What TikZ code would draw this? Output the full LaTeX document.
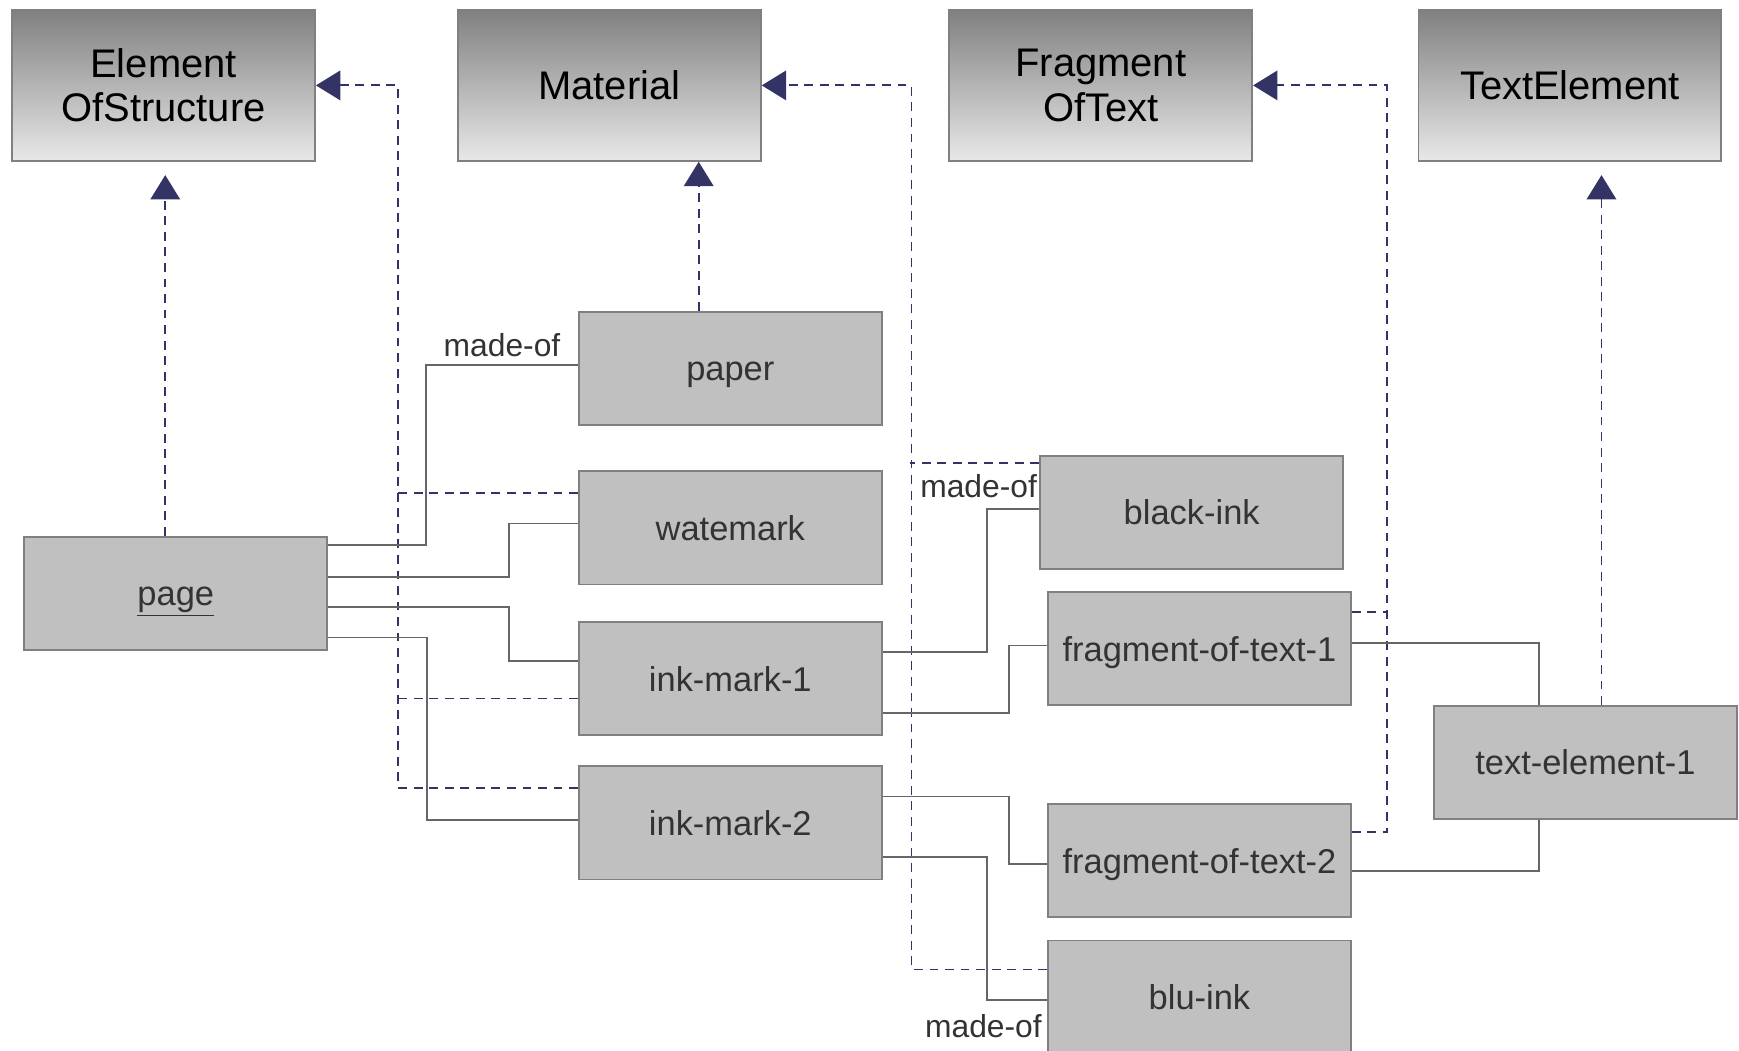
\documentclass[tikz,border=0pt]{standalone}
\usepackage{fontspec}
\setmainfont{Liberation Sans}
\usetikzlibrary{calc,arrows.meta}

\definecolor{classline}{RGB}{128,128,128}
\definecolor{classtop}{RGB}{128,128,128}
\definecolor{classbot}{RGB}{232,232,232}
\definecolor{instfill}{RGB}{192,192,192}
\definecolor{insttext}{RGB}{51,51,51}
\definecolor{linkgray}{RGB}{102,102,102}
\definecolor{isanavy}{RGB}{51,51,102}

\tikzset{every picture/.style={line width=0.75pt}}

\begin{document}
\begin{tikzpicture}[x=0.75pt,y=0.75pt,yscale=-1,xscale=1,
  classbox/.style={draw=classline, line width=1.3pt, top color=classtop, bottom color=classbot,
    minimum width=204.75pt, minimum height=102pt, inner sep=0pt, align=center,
    font=\fontsize{27}{30}\selectfont},
  instbox/.style={draw=classline, line width=1.3pt, fill=instfill, text=insttext,
    minimum width=204.75pt, minimum height=76.5pt, inner sep=0pt,
    text height=16.8pt, text depth=0pt,
    font=\fontsize{23.3}{28}\selectfont},
  link/.style={draw=linkgray, line width=1.25pt},
  lbl/.style={text=insttext, inner sep=1pt, font=\fontsize{21.5}{24}\selectfont},
  isa/.style={draw=isanavy, line width=1.25pt, dash pattern=on 6pt off 4.5pt},
  isahead/.style={isa, -{Triangle[length=16.5pt,width=20pt]}}
]
%set diagram left start at 0, and has height of 947
\useasboundingbox (0,0) rectangle (1568,947);

% Class Nodes
\node[classbox] (elemstruct) at (147.5,77) {Element\\OfStructure};
\node[classbox] (material) at (549.5,77) {Material};
\node[classbox] (fragtext) at (992.5,77) {Fragment\\OfText};
\node[classbox] (textelem) at (1415.5,77) {TextElement};

% Instance Nodes
\node[instbox] (page) at (158.5,535) {\underline{page}};
\node[instbox] (paper) at (658.5,332) {paper};
\node[instbox] (watemark) at (658.5,476) {watemark};
\node[instbox] (inkone) at (658.5,612) {ink-mark-1};
\node[instbox] (inktwo) at (658.5,742) {ink-mark-2};
\node[instbox] (blackink) at (1074.5,462) {black-ink};
\node[instbox] (fragone) at (1081.5,585) {fragment-of-text-1};
\node[instbox] (fragtwo) at (1081.5,776) {fragment-of-text-2};
\node[instbox] (bluink) at (1081.5,899) {blu-ink};
\node[instbox] (textelemone) at (1429.5,687.5) {text-element-1};

% Instance Of
\coordinate (eoshead) at ($(elemstruct.south)+(1.5,12)$);
\draw[isahead] (page.north -| eoshead) -- (eoshead);
\draw[isahead] ($(paper.north)+(-28.5,0)$) coordinate (papfoot) -- (papfoot |- material.south);
\coordinate (tehead) at ($(textelem.south)+(28.5,12)$);
\draw[isahead] (textelemone.north -| tehead) -- (tehead);

\draw[isahead] ($(inktwo.north west)+(0,20)$) -| ($(elemstruct.east)+(74,0)$) -- (elemstruct.east);
\draw[isa] ($(watemark.north west)+(0,20)$) -- ++(-164,0);
\draw[isa] ($(inkone.south west)+(0,-34)$) -- ++(-164,0);

\draw[isahead] ($(bluink.north west)+(0,27)$) -| ($(material.east)+(135,0)$) -- (material.east);
\draw[isa] ($(blackink.north west)+(0,7)$) -- ++(-117,0);

\draw[isahead] ($(fragtwo.north east)+(0,26)$) -| ($(fragtext.east)+(121,0)$) -- (fragtext.east);
\draw[isa] ($(fragone.north east)+(0,19)$) -- ++(32,0);

% Links
\draw[link] ($(page.north east)+(0,8)$) -| ($(paper.west)+(-137,-3)$)
  -- node[lbl, above=4pt] {made-of} ++(137,0);
\draw[link] ($(page.east)+(0,-15)$) -| ($(watemark.west)+(-62,-4)$) -- ++(62,0);
\draw[link] ($(page.east)+(0,12)$) -| ($(inkone.west)+(-62,-16)$) -- ++(62,0);
\draw[link] ($(page.south east)+(0,-12)$) -| ($(inktwo.west)+(-136,-3)$) -- ++(136,0);

\draw[link] ($(inkone.east)+(0,-24)$) -| ($(blackink.west)+(-47,-3)$) -- ++(47,0)
  node[lbl, pos=1, anchor=south east, yshift=6pt] {made-of};
\draw[link] ($(inkone.south east)+(0,-21)$) -| ($(fragone.west)+(-34,-3)$) -- ++(34,0);
\draw[link] ($(inktwo.north east)+(0,28)$) -| ($(fragtwo.west)+(-34,3)$) -- ++(34,0);
\draw[link] ($(inktwo.south east)+(0,-21)$) -| ($(bluink.west)+(-54,3)$) -- ++(54,0)
  node[lbl, pos=1, anchor=north east, xshift=-2pt, yshift=-8pt] {made-of};

\draw[link] ($(fragone.east)+(0,-5)$) -| ($(textelemone.north)+(-41.5,0)$);
\draw[link] ($(fragtwo.east)+(0,9)$) -| ($(textelemone.south)+(-41.5,0)$);

\end{tikzpicture}
\end{document}
